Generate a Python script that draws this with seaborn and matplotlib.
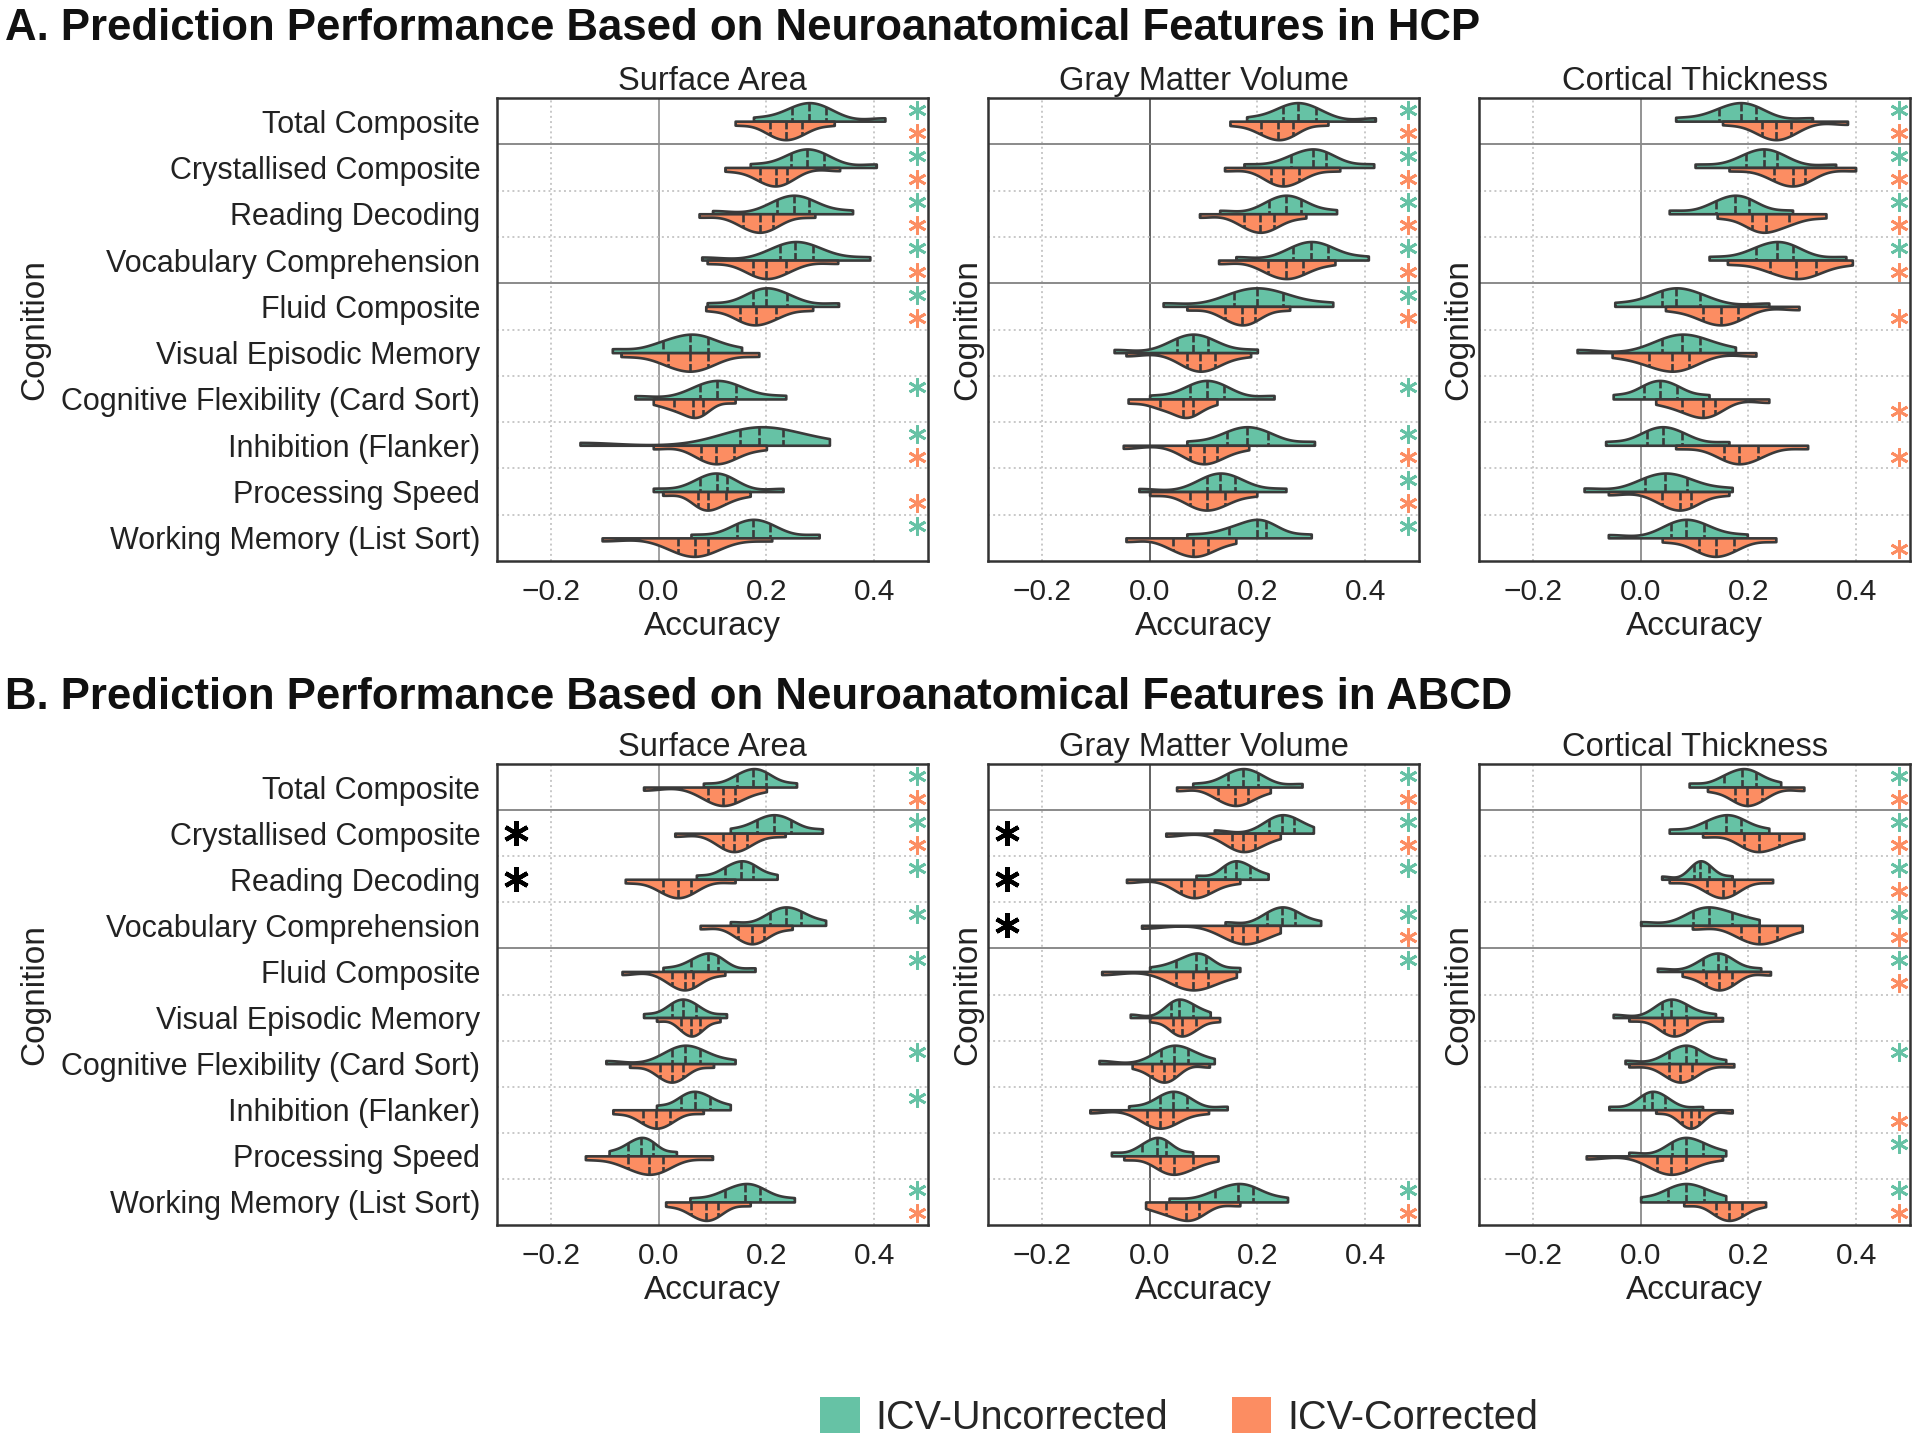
import pandas as pd
import seaborn as sns
import matplotlib.pyplot as plt
from matplotlib.patches import Patch

sns.set_style("white")
plt.rcParams["font.family"] = ["Liberation Sans", "DejaVu Sans"]

# === Categories ===
cognition = ["Total Composite", "Crystallised Composite", "Reading Decoding",
             "Vocabulary Comprehension", "Fluid Composite", "Visual Episodic Memory",
             "Cognitive Flexibility (Card Sort)", "Inhibition (Flanker)",
             "Processing Speed", "Working Memory (List Sort)"]
features = ["Surface Area", "Gray Matter Volume", "Cortical Thickness"]
icv_levels = ["ICV-Uncorrected", "ICV-Corrected"]
colors = ["#66C2A5", "#FC8D62"]

# === Accuracy summaries: [min, q1, median, q3, max] ===
hcp_sa_unc = [[0.176, 0.248, 0.28, 0.31, 0.42], [0.17, 0.245, 0.276, 0.307, 0.404],
              [0.10, 0.22, 0.251, 0.279, 0.36], [0.08, 0.226, 0.254, 0.286, 0.392],
              [0.09, 0.176, 0.20, 0.239, 0.334], [-0.086, 0.0075, 0.0575, 0.092, 0.154],
              [-0.044, 0.076, 0.109, 0.144, 0.236], [-0.146, 0.151, 0.186, 0.23, 0.317],
              [-0.01, 0.076, 0.1075, 0.1275, 0.231], [0.06, 0.145, 0.176, 0.2075, 0.298]]
hcp_sa_cor = [[0.142, 0.207, 0.236, 0.267, 0.326], [0.123, 0.189, 0.217, 0.239, 0.336],
              [0.075, 0.157, 0.1875, 0.212, 0.29], [0.09, 0.176, 0.20, 0.236, 0.3325],
              [0.0875, 0.151, 0.18, 0.217, 0.286], [-0.07, 0.017, 0.0575, 0.092, 0.186],
              [-0.01, 0.028, 0.064, 0.0825, 0.142], [-0.01, 0.078, 0.107, 0.14, 0.20],
              [0.0075, 0.073, 0.092, 0.125, 0.17], [-0.105, 0.036, 0.067, 0.092, 0.21]]
hcp_gmv_unc = [[0.18, 0.247, 0.275, 0.309, 0.419], [0.175, 0.2625, 0.303, 0.328, 0.416],
               [0.13, 0.222, 0.253, 0.281, 0.347], [0.16, 0.266, 0.30, 0.331, 0.406],
               [0.025, 0.156, 0.199, 0.247, 0.34], [-0.066, 0.05, 0.081, 0.109, 0.20],
               [0.0, 0.075, 0.106, 0.1375, 0.231], [0.069, 0.144, 0.181, 0.219, 0.306],
               [-0.02, 0.106, 0.131, 0.159, 0.253], [0.069, 0.147, 0.199, 0.216, 0.30]]
hcp_gmv_cor = [[0.149, 0.206, 0.239, 0.266, 0.331], [0.139, 0.225, 0.247, 0.278, 0.353],
               [0.0925, 0.175, 0.205, 0.231, 0.29], [0.128, 0.219, 0.253, 0.284, 0.344],
               [0.069, 0.14, 0.172, 0.195, 0.26], [-0.044, 0.069, 0.094, 0.122, 0.1875],
               [-0.04, 0.019, 0.0625, 0.081, 0.125], [-0.049, 0.075, 0.10, 0.125, 0.184],
               [0.0, 0.075, 0.106, 0.14, 0.199], [-0.044, 0.044, 0.081, 0.109, 0.16]]
hcp_ct_unc = [[0.065, 0.1455, 0.186, 0.2136, 0.319], [0.101, 0.195, 0.229, 0.254, 0.362],
              [0.053, 0.139, 0.176, 0.201, 0.282], [0.127, 0.214, 0.254, 0.282, 0.381],
              [-0.048, 0.039, 0.066, 0.111, 0.238], [-0.118, 0.04, 0.077, 0.111, 0.176],
              [-0.051, 0.006, 0.036, 0.068, 0.127], [-0.065, 0.012, 0.041, 0.077, 0.164],
              [-0.105, 0.009, 0.046, 0.087, 0.17], [-0.06, 0.056, 0.084, 0.118, 0.198]]
hcp_ct_cor = [[0.152, 0.226, 0.251, 0.279, 0.384], [0.164, 0.248, 0.282, 0.306, 0.399],
              [0.142, 0.207, 0.232, 0.276, 0.344], [0.161, 0.241, 0.288, 0.325, 0.393],
              [0.046, 0.115, 0.149, 0.18, 0.294], [-0.053, 0.0155, 0.059, 0.09, 0.214],
              [0.028, 0.077, 0.115, 0.138, 0.238], [0.065, 0.155, 0.183, 0.217, 0.31],
              [-0.06, 0.04, 0.073, 0.093, 0.164], [0.04, 0.108, 0.139, 0.173, 0.251]]

abcd_sa_unc = [[0.083, 0.145, 0.176, 0.20, 0.256], [0.133, 0.1825, 0.214, 0.245, 0.304],
               [0.07, 0.123, 0.153, 0.176, 0.22], [0.133, 0.207, 0.236, 0.264, 0.31],
               [0.008, 0.061, 0.092, 0.111, 0.179], [-0.028, 0.024, 0.045, 0.07, 0.126],
               [-0.098, 0.024, 0.049, 0.077, 0.142], [-0.004, 0.042, 0.067, 0.095, 0.133],
               [-0.092, -0.057, -0.032, -0.011, 0.033], [0.058, 0.123, 0.161, 0.189, 0.252]]
abcd_sa_cor = [[-0.028, 0.092, 0.12, 0.142, 0.20], [0.03, 0.12, 0.139, 0.164, 0.235],
               [-0.062, 0.008, 0.036, 0.061, 0.142], [0.077, 0.148, 0.173, 0.195, 0.248],
               [-0.068, 0.024, 0.049, 0.064, 0.123], [-0.004, 0.042, 0.061, 0.077, 0.114],
               [-0.054, 0.002, 0.024, 0.045, 0.102], [-0.085, -0.029, -0.004, 0.021, 0.083],
               [-0.136, -0.057, -0.017, 0.008, 0.10], [0.013, 0.061, 0.088, 0.111, 0.17]]
abcd_gmv_unc = [[0.08, 0.146, 0.174, 0.202, 0.283], [0.12, 0.221, 0.246, 0.2675, 0.304],
                [0.086, 0.139, 0.161, 0.186, 0.22], [0.14, 0.2175, 0.246, 0.27, 0.3175],
                [0.0, 0.049, 0.086, 0.105, 0.1675], [-0.036, 0.039, 0.055, 0.08, 0.1125],
                [-0.094, 0.021, 0.046, 0.071, 0.12], [-0.039, 0.019, 0.044, 0.069, 0.144],
                [-0.071, -0.014, 0.014, 0.03, 0.08], [0.036, 0.121, 0.164, 0.1925, 0.256]]
abcd_gmv_cor = [[0.05, 0.127, 0.158, 0.183, 0.224], [0.03, 0.152, 0.174, 0.196, 0.2425],
                [-0.043, 0.058, 0.083, 0.108, 0.1675], [-0.015, 0.152, 0.174, 0.199, 0.2425],
                [-0.089, 0.049, 0.08, 0.108, 0.161], [0.0, 0.043, 0.061, 0.086, 0.13],
                [-0.0325, 0.005, 0.027, 0.046, 0.111], [-0.111, -0.004, 0.019, 0.044, 0.1094],
                [-0.048, 0.019, 0.046, 0.08, 0.127], [-0.0075, 0.03, 0.0675, 0.0925, 0.1675]]
abcd_ct_unc = [[0.09, 0.155, 0.189, 0.214, 0.26], [0.053, 0.121, 0.158, 0.186, 0.238],
               [0.039, 0.099, 0.111, 0.127, 0.17], [0.0, 0.097, 0.127, 0.17, 0.22],
               [0.031, 0.115, 0.144, 0.159, 0.223], [-0.051, 0.04, 0.056, 0.084, 0.139],
               [-0.029, 0.053, 0.084, 0.102, 0.158], [-0.059, 0.006, 0.022, 0.046, 0.115],
               [-0.022, 0.059, 0.084, 0.115, 0.158], [0.0, 0.05, 0.084, 0.118, 0.158]]
abcd_ct_cor = [[0.124, 0.176, 0.198, 0.226, 0.303], [0.115, 0.192, 0.22, 0.257, 0.303],
               [0.053, 0.124, 0.152, 0.173, 0.245], [0.096, 0.186, 0.22, 0.254, 0.30],
               [0.077, 0.121, 0.146, 0.17, 0.241], [-0.022, 0.043, 0.062, 0.087, 0.152],
               [-0.022, 0.053, 0.074, 0.096, 0.173], [0.028, 0.077, 0.093, 0.108, 0.17],
               [-0.101, 0.031, 0.056, 0.084, 0.152], [0.08, 0.139, 0.164, 0.189, 0.232]]

# === Significance (row indices) ===
hcp_sig_unc = [[0, 1, 2, 3, 4, 6, 7, 9], [0, 1, 2, 3, 4, 6, 7, 8, 9], [0, 1, 2, 3]]
hcp_sig_cor = [[0, 1, 2, 3, 4, 7, 8], [0, 1, 2, 3, 4, 7, 8], [0, 1, 2, 3, 4, 6, 7, 9]]
abcd_sig_unc = [[0, 1, 2, 3, 4, 6, 7, 9], [0, 1, 2, 3, 4, 9], [0, 1, 2, 3, 4, 6, 8, 9]]
abcd_sig_cor = [[0, 1, 9], [0, 1, 3, 9], [0, 1, 2, 3, 4, 7, 9]]
hcp_diff = [[], [], []]
abcd_diff = [[1, 2], [1, 2, 3], []]

panels = [
    ("A. Prediction Performance Based on Neuroanatomical Features in HCP",
     [(hcp_sa_unc, hcp_sa_cor), (hcp_gmv_unc, hcp_gmv_cor), (hcp_ct_unc, hcp_ct_cor)],
     hcp_sig_unc, hcp_sig_cor, hcp_diff),
    ("B. Prediction Performance Based on Neuroanatomical Features in ABCD",
     [(abcd_sa_unc, abcd_sa_cor), (abcd_gmv_unc, abcd_gmv_cor), (abcd_ct_unc, abcd_ct_cor)],
     abcd_sig_unc, abcd_sig_cor, abcd_diff),
]


def to_long(unc, cor):
    # each violin is built from its read quartile summary (centre weighted)
    rows = []
    for icv, summ in zip(icv_levels, [unc, cor]):
        for cog, (lo, q1, med, q3, hi) in zip(cognition, summ):
            for v in [lo, q1, q1, med, med, med, q3, q3, hi]:
                rows.append((cog, icv, v))
    return pd.DataFrame(rows, columns=["Cognition", "ICV", "Accuracy"])


W, H = 1920, 1445
fig = plt.figure(figsize=(W / 100, H / 100), dpi=100)

ax_left = [497, 988, 1479]
ax_w = 431
rows_px = [(98, 561), (764, 1225)]
title_base = [40, 709]
zero_col = ["#9a9a9a", "#555555", "#8a8a8a"]

for p, (ptitle, data, sig_unc, sig_cor, diff) in enumerate(panels):
    top, bot = rows_px[p]
    fig.text(5 / W, 1 - title_base[p] / H, ptitle, fontsize=31.5, fontweight="bold",
             va="baseline", ha="left", color="#111111")
    for c, feat in enumerate(features):
        ax = fig.add_axes([ax_left[c] / W, 1 - bot / H, ax_w / W, (bot - top) / H])
        df = to_long(*data[c])
        sns.violinplot(data=df, x="Accuracy", y="Cognition", hue="ICV",
                       order=cognition, hue_order=icv_levels, split=True,
                       inner="quart", cut=0, density_norm="width", width=0.8,
                       bw_adjust=0.8, palette=colors, linecolor="#3a3a3a",
                       linewidth=1.9, saturation=1, legend=False,
                       inner_kws=dict(linewidth=1.9, dashes=(3.0, 1.0)), ax=ax)

        # grid
        for gx in [-0.2, 0.2, 0.4]:
            ax.axvline(gx, color="#c8c8c8", ls=":", lw=1.4, zorder=0.5)
        ax.axvline(0, color=zero_col[c], ls="-", lw=1.3, zorder=0.5)
        for k in range(1, 10):
            if k in (1, 4):
                ax.axhline(k - 0.5, color="#8a8a8a", ls="-", lw=1.4, zorder=0.5)
            else:
                ax.axhline(k - 0.5, color="#c8c8c8", ls=":", lw=1.4, zorder=0.5)

        # significance markers
        for i in sig_unc[c]:
            ax.plot(0.48, i - 0.25, marker=(6, 2, 0), ms=13, mew=2, color=colors[0],
                    ls="none", clip_on=False, zorder=5)
        for i in sig_cor[c]:
            ax.plot(0.48, i + 0.25, marker=(6, 2, 0), ms=13, mew=2, color=colors[1],
                    ls="none", clip_on=False, zorder=5)
        for i in diff[c]:
            ax.plot(-0.265, i, marker=(6, 2, 0), ms=18, mew=3, color="black",
                    ls="none", zorder=5)

        ax.set_xlim(-0.3, 0.5)
        ax.set_ylim(9.5, -0.5)
        ax.set_xticks([-0.2, 0.0, 0.2, 0.4])
        ax.set_xticklabels(["\u22120.2", "0.0", "0.2", "0.4"])
        ax.tick_params(axis="x", length=0, pad=12, labelsize=21.5, colors="#222222")
        ax.tick_params(axis="y", length=0, pad=12, labelsize=22, colors="#222222")
        if c > 0:
            ax.set_yticklabels([])
        ax.set_title(feat, fontsize=23.5, pad=6, color="#222222")
        ax.set_xlabel("Accuracy", fontsize=24, labelpad=4, color="#222222")
        ax.set_ylabel("Cognition", fontsize=24, color="#222222")
        if c == 0:
            ax.yaxis.set_label_coords(-1.037, 0.5)
        else:
            ax.yaxis.set_label_coords(-0.012, 0.5)
        for s in ax.spines.values():
            s.set_color("#333333")
            s.set_linewidth(1.8)

handles = [Patch(facecolor=colors[0], edgecolor="none"),
           Patch(facecolor=colors[1], edgecolor="none")]
fig.legend(handles, icv_levels, loc="center", bbox_to_anchor=(1179 / W, 1 - 1417 / H),
           ncol=2, frameon=False, fontsize=28.5, handlelength=1.0, handleheight=1.0,
           handletextpad=0.4, columnspacing=1.6)

fig.savefig("out.png", dpi=100)
